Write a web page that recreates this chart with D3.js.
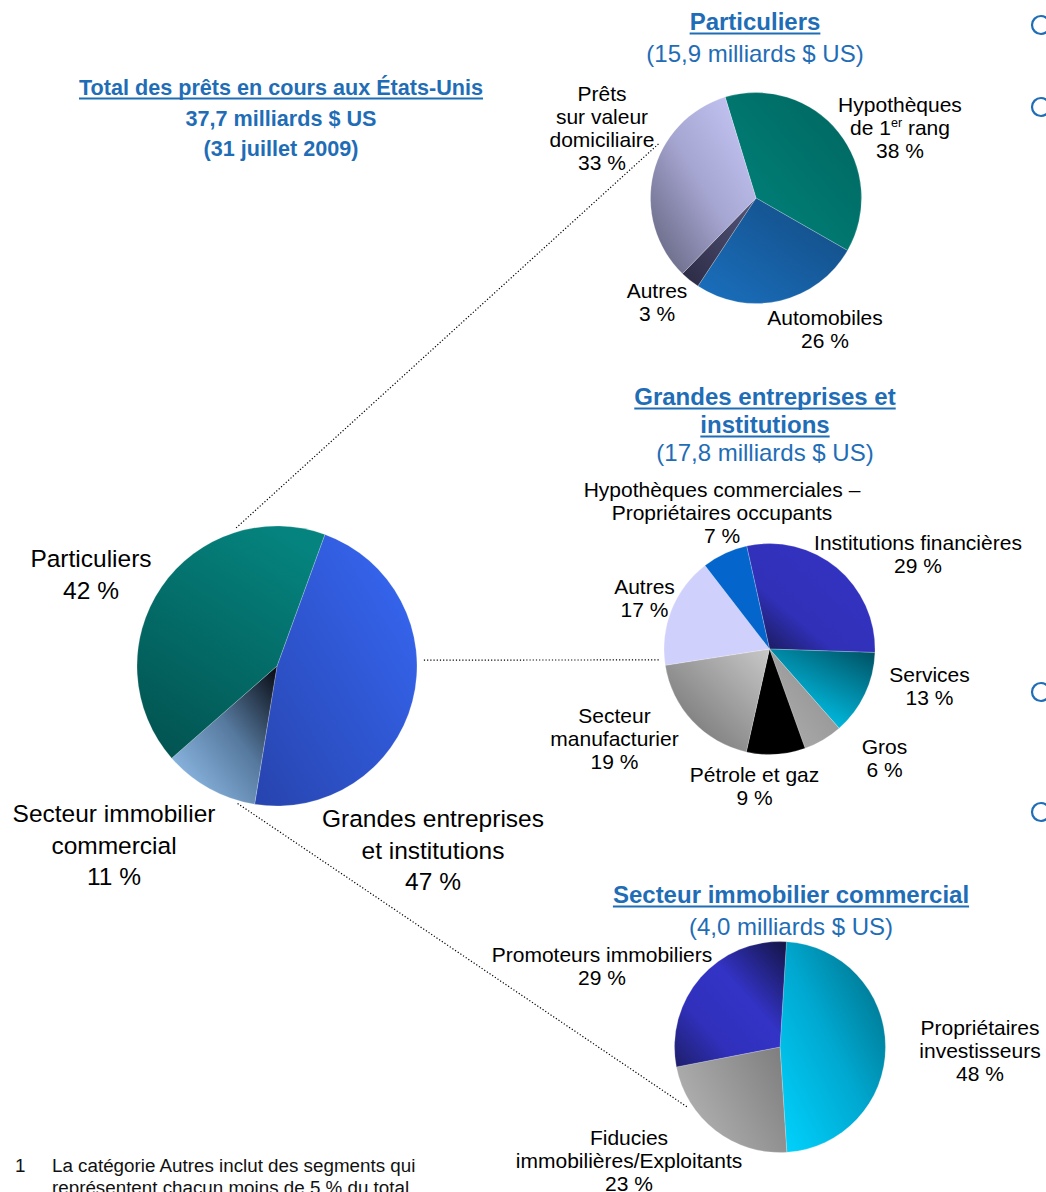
<!DOCTYPE html>
<html>
<head>
<meta charset="utf-8">
<script src="https://cdn.jsdelivr.net/npm/d3@7.9.0/dist/d3.min.js"></script>
<style>
  body { margin: 0; background: #fff; }
  svg text { font-family: "Liberation Sans", Arial, Helvetica, sans-serif; }
</style>
</head>
<body>
<svg id="chart" width="1046" height="1192"></svg>
<script>
// ---- data ----
const mainLabels = [['Grandes entreprises', 'et institutions', '47 %'], ['Secteur immobilier', 'commercial', '11 %'], ['Particuliers', '42 %']];
const mainValues = [47, 11, 42];

const persLabels = [['Hypothèques', 'de 1^er rang', '38 %'], ['Automobiles', '26 %'], ['Autres', '3 %'], ['Prêts', 'sur valeur', 'domiciliaire', '33 %']];
const persValues = [38, 26, 3, 33];

const corpLabels = [['Institutions financières', '29 %'], ['Services', '13 %'], ['Gros', '6 %'], ['Pétrole et gaz', '9 %'],
  ['Secteur', 'manufacturier', '19 %'], ['Autres', '17 %'], ['Hypothèques commerciales –', 'Propriétaires occupants', '7 %']];
const corpValues = [29, 13, 6, 9, 19, 17, 7];

const creLabels = [['Propriétaires', 'investisseurs', '48 %'], ['Fiducies', 'immobilières/Exploitants', '23 %'], ['Promoteurs immobiliers', '29 %']];
const creValues = [48, 23, 29];

const titleTotal = ['Total des prêts en cours aux États-Unis', '37,7 milliards $ US', '(31 juillet 2009)'];
const titlePers = ['Particuliers', '(15,9 milliards $ US)'];
const titleCorp = ['Grandes entreprises et', 'institutions', '(17,8 milliards $ US)'];
const titleCre = ['Secteur immobilier commercial', '(4,0 milliards $ US)'];
const footnote = ['La catégorie Autres inclut des segments qui', 'représentent chacun moins de 5 % du total.'];

// ---- styling ----
const blue = '#1f6db6';
const svg = d3.select('#chart');
const defs = svg.append('defs');

function grad(id, x1, y1, x2, y2, stops) {
  const g = defs.append('linearGradient').attr('id', id)
    .attr('x1', x1).attr('y1', y1).attr('x2', x2).attr('y2', y2);
  stops.forEach(s => g.append('stop').attr('offset', s[0]).attr('stop-color', s[1]));
  return `url(#${id})`;
}

const mainFills = [
  grad('m0', 1, 0, 0, 1, [[0, '#3769f6'], [1, '#2744ae']]),
  grad('m1', 1, 0, 0, 1, [[0, '#05070e'], [0.45, '#56799e'], [1, '#9bc9f6']]),
  grad('m2', 0.7, 0, 0.2, 1, [[0, '#05837e'], [1, '#025451']])
];
const persFills = [
  grad('p0', 0, 1, 1, 0, [[0, '#00857d'], [1, '#00655e']]),
  grad('p1', 0, 1, 1, 0, [[0, '#1a70bf'], [1, '#134a80']]),
  grad('p2', 0, 1, 1, 0, [[0, '#2a2a44'], [1, '#55557a']]),
  grad('p3', 1, 0, 0, 1, [[0, '#cbcbfb'], [0.5, '#a6a6d2'], [1, '#5e5e78']])
];
const corpFills = [
  grad('c0', 0, 1, 1, 0, [[0, '#141440'], [0.35, '#3030b8'], [1, '#3434c6']]),
  grad('c1', 0.3, 1, 1, 0, [[0, '#00cdf6'], [1, '#004d5e']]),
  grad('c2', 0, 1, 1, 0, [[0, '#b0b0b0'], [1, '#8c8c8c']]),
  '#000000',
  grad('c4', 1, 0, 0, 1, [[0, '#c8c8c8'], [1, '#6a6a6a']]),
  '#d0d0fc',
  '#0466cc'
];
const creFills = [
  grad('r0', 0, 1, 1, 0, [[0, '#00d4ff'], [0.5, '#00a8d0'], [1, '#00687e']]),
  grad('r1', 0, 0.5, 1, 0, [[0, '#b0b0b0'], [1, '#7c7c7c']]),
  grad('r2', 1, 0, 0, 1, [[0, '#141445'], [0.4, '#3333c6'], [0.7, '#3030bc'], [1, '#1e1e6a']])
];

const deg = Math.PI / 180;
function polar(c, a, rr) { return [c[0] + rr * Math.sin(a * deg), c[1] - rr * Math.cos(a * deg)]; }

function drawPie(c, r, start, values, labels, fills, labelPos, fs, lh) {
  const pie = d3.pie().sort(null).value(d => d)
    .startAngle(start * deg).endAngle(start * deg + 2 * Math.PI);
  const arc = d3.arc().innerRadius(0).outerRadius(r);
  const g = svg.append('g').attr('transform', `translate(${c[0]},${c[1]})`);
  g.selectAll('path').data(pie(values)).join('path')
    .attr('d', arc)
    .attr('fill', (d, i) => fills[i])
    .attr('stroke', '#ffffff').attr('stroke-opacity', 0.35).attr('stroke-width', 0.6);

  labels.forEach((lines, i) => {
    const t = g.append('text').attr('text-anchor', 'middle').attr('font-size', fs).attr('fill', '#000');
    lines.forEach((ln, j) => {
      const y = labelPos[i][1] + j * lh;
      if (ln.includes('^')) {
        const m = ln.match(/^(.*?)\^(\S+)(.*)$/);
        const tt = t.append('tspan').attr('x', labelPos[i][0]).attr('y', y);
        tt.append('tspan').text(m[1]);
        tt.append('tspan').attr('font-size', fs * 0.6).attr('dy', -fs * 0.38).text(m[2]);
        tt.append('tspan').attr('dy', fs * 0.38).text(m[3]);
      } else {
        t.append('tspan').attr('x', labelPos[i][0]).attr('y', y).text(ln);
      }
    });
  });
}

function title(x, y0, lines, lh, opts) {
  lines.forEach((ln, j) => {
    const bold = j < opts.boldCount;
    const t = svg.append('text').attr('x', x).attr('y', y0 + j * lh)
      .attr('text-anchor', 'middle').attr('font-size', opts.size)
      .attr('font-weight', bold ? 'bold' : 'normal').attr('fill', blue).text(ln);
    if (j < opts.underlineCount) {
      const w = t.node().getComputedTextLength();
      svg.append('line').attr('x1', x - w / 2).attr('x2', x + w / 2)
        .attr('y1', y0 + j * lh + 3.5).attr('y2', y0 + j * lh + 3.5)
        .attr('stroke', blue).attr('stroke-width', 2);
    }
  });
}

// ---- pies ----
const cMain = [277, 666], rMain = 140;
const cPers = [756, 198], cCorp = [769.5, 649], cCre = [780, 1047], rSub = 105.5;

// dotted connectors (drawn first so they sit under labels)
const connectors = [
  [cMain, -16.5, 144, cPers, -60.2, 111],
  [cMain, 87.7, 147, cCorp, 264.3, 110],
  [cMain, 196, 143, cCre, 236.5, 110]
];
connectors.forEach(k => {
  const a = polar(k[0], k[1], k[2]), b = polar(k[3], k[4], k[5]);
  svg.append('line').attr('x1', a[0]).attr('y1', a[1]).attr('x2', b[0]).attr('y2', b[1])
    .attr('stroke', '#000').attr('stroke-width', 1.2).attr('stroke-dasharray', '1.2,2');
});

drawPie(cMain, rMain, 20, mainValues, mainLabels, mainFills,
  [[156, 161], [-163, 156], [-186, -99]], 24.5, 31.5);
drawPie(cPers, rSub, -17, persValues, persLabels, persFills,
  [[144, -86], [69, 127], [-99, 100], [-154, -97]], 21, 23);
drawPie(cCorp, rSub, -12.5, corpValues, corpLabels, corpFills,
  [[148.5, -99], [160, 33], [115, 105], [-15, 133], [-155, 74], [-125, -55], [-47.5, -152]], 21, 23);
drawPie(cCre, rSub, 3.5, creValues, creLabels, creFills,
  [[200, -12], [-151, 98], [-178, -85]], 21, 23);

// ---- titles ----
title(281, 95, titleTotal, 30.5, { size: 21.6, boldCount: 3, underlineCount: 1 });
title(755, 30, titlePers, 31.5, { size: 24, boldCount: 1, underlineCount: 1 });
title(765, 405, titleCorp, 28, { size: 24, boldCount: 2, underlineCount: 2 });
title(791, 903, titleCre, 32, { size: 24, boldCount: 1, underlineCount: 1 });

// ---- footnote ----
svg.append('text').attr('x', 15).attr('y', 1172).attr('font-size', 18.8).attr('fill', '#111').text('1');
footnote.forEach((ln, j) => {
  svg.append('text').attr('x', 52).attr('y', 1172 + j * 21.5).attr('font-size', 18.8).attr('fill', '#111').text(ln);
});

// ---- clipped slide bullets on the right edge ----
const bulletY = [25, 107, 692, 812];
svg.selectAll('circle.bullet').data(bulletY).join('circle').attr('class', 'bullet')
  .attr('cx', 1041).attr('cy', d => d).attr('r', 9)
  .attr('fill', 'none').attr('stroke', blue).attr('stroke-width', 2.2);
</script>
</body>
</html>
